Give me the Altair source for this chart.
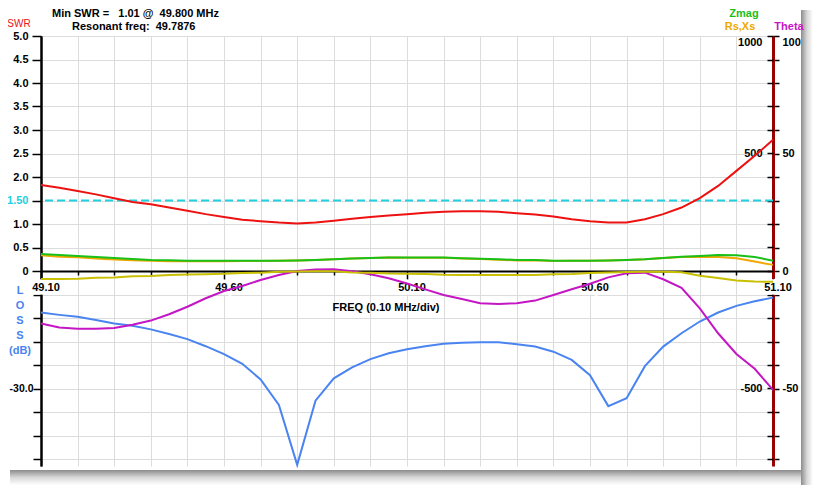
import json
import altair as alt
import pandas as pd

# ---------------- data ----------------
freq = [49.10, 49.15, 49.20, 49.25, 49.30, 49.35, 49.40, 49.45, 49.50, 49.55,
        49.60, 49.65, 49.70, 49.75, 49.80, 49.85, 49.90, 49.95, 50.00, 50.05,
        50.10, 50.15, 50.20, 50.25, 50.30, 50.35, 50.40, 50.45, 50.50, 50.55,
        50.60, 50.65, 50.70, 50.75, 50.80, 50.85, 50.90, 50.95, 51.00, 51.05,
        51.10]
swr = [1.83, 1.77, 1.70, 1.63, 1.55, 1.47, 1.42, 1.35, 1.28, 1.21,
       1.15, 1.09, 1.06, 1.03, 1.01, 1.03, 1.07, 1.11, 1.15, 1.18,
       1.21, 1.24, 1.26, 1.27, 1.27, 1.26, 1.23, 1.20, 1.16, 1.10,
       1.06, 1.03, 1.03, 1.10, 1.21, 1.35, 1.55, 1.81, 2.13, 2.45,
       2.79]
loss_db = [-10.6, -11.2, -11.7, -12.5, -13.4, -14.0, -14.9, -16.1, -17.4, -19.2,
           -21.2, -23.7, -27.7, -34.2, -49.5, -33.1, -27.4, -24.6, -22.5, -21.0,
           -20.0, -19.2, -18.6, -18.3, -18.2, -18.2, -18.7, -19.3, -20.6, -22.7,
           -26.6, -34.5, -32.5, -24.3, -19.3, -15.9, -12.9, -10.6, -8.9, -7.7,
           -6.8]
zmag = [72, 68, 64, 60, 55, 51, 47, 46, 44, 44,
        44, 44, 44, 44, 45, 47, 50, 53, 55, 57,
        57, 57, 57, 54, 52, 50, 47, 47, 44, 44,
        44, 45, 47, 50, 55, 61, 64, 68, 67, 60,
        44]
rs = [67, 61, 58, 53, 49, 46, 44, 42, 41, 42,
      42, 43, 43, 44, 45, 47, 50, 53, 55, 57,
      56, 56, 56, 53, 51, 48, 45, 46, 43, 44,
      44, 45, 47, 50, 55, 60, 61, 60, 54, 40,
      26]
xs = [-34, -34, -33, -29, -28, -22, -21, -17, -15, -14,
      -12, -8, -7, -3, -2, -1, -1, -6, -7, -11,
      -12, -13, -16, -17, -17, -17, -17, -17, -14, -13,
      -8, -6, -4, -3, -3, -5, -20, -30, -40, -45,
      -46]
theta = [-22.3, -24.0, -24.6, -24.6, -24.3, -22.9, -21.1, -18.4, -15.2, -11.6,
         -8.5, -6.4, -3.8, -1.7, 0.0, 0.6, 0.7, -0.1, -1.4, -3.1,
         -5.3, -7.8, -10.2, -11.9, -13.7, -14.0, -13.7, -12.6, -10.2, -7.8,
         -5.4, -2.7, -1.0, -0.7, -3.5, -7.2, -15.9, -26.5, -35.3, -41.6,
         -50.6]

# tick positions / labels
x_ticks = [49.1, 49.2, 49.3, 49.4, 49.5, 49.6, 49.7, 49.8, 49.9, 50.0, 50.1,
           50.2, 50.3, 50.4, 50.5, 50.6, 50.7, 50.8, 50.9, 51.0, 51.1]
x_label_vals = [49.1, 49.6, 50.1, 50.6, 51.1]
x_labels = ["49.10", "49.60", "50.10", "50.60", "51.10"]
swr_ticks = [0, 0.5, 1.0, 1.5, 2.0, 2.5, 3.0, 3.5, 4.0, 4.5, 5.0]
loss_ticks = [-6, -12, -18, -24, -30, -36, -42, -48]
z_ticks = [-800, -700, -600, -500, -400, -300, -200, -100, 0, 100, 200,
           300, 400, 500, 600, 700, 800, 900, 1000]
z_labels = [1000, 500, -500]
theta_ticks = [-80, -70, -60, -50, -40, -30, -20, -10, 0, 10, 20, 30, 40,
               50, 60, 70, 80, 90, 100]
theta_labels = [100, 50, 0, -50]
swr_ref = [1.5]

df = pd.DataFrame(dict(freq=freq, swr=swr, loss=loss_db, zmag=zmag, rs=rs,
                       xs=xs, theta=theta))
xlab_df = pd.DataFrame(dict(freq=x_label_vals, label=x_labels))

# ---------------- layout / style ----------------
W, H = 732, 430
Y0 = 235                      # pixel row (from plot top) of the common zero line
FONT = "Liberation Sans"
GRID = "#dcdcdc"
RED = "#ee1111"
CYAN = "#22d0e0"
BLUE = "#4a84f0"
MAGENTA = "#c416c4"
YELLOW = "#c8c000"
ORANGE = "#f0a800"
GREEN = "#18c018"
DARKRED = "#990000"


def dom(top, px_per_unit):
    return [top - H / px_per_unit, top]


SWR_DOM = dom(5, Y0 / 5)
LOSS_DOM = dom(60, Y0 / 60)
Z_DOM = dom(1000, Y0 / 1000)
TH_DOM = dom(100, Y0 / 100)
X_DOM = [49.1, 51.1]


def sc(d):
    return alt.Scale(domain=d, nice=False, zero=False)


lab = dict(labelFont=FONT, labelFontSize=11, labelFontWeight="bold",
           labelColor="black", title=None, labelOverlap=False)

label_test = "indexof(%s, format(datum.value, '.2f')) >= 0" % json.dumps(x_labels)
x_axis = alt.Axis(orient="bottom", offset=-(H - Y0), values=x_ticks,
                  grid=True, gridColor=GRID, gridWidth=1,
                  domain=True, domainColor="black", domainWidth=2,
                  ticks=True, tickColor="black", tickWidth=1.5,
                  tickSize={"condition": {"test": label_test, "value": 10}, "value": 4},
                  labels=False, title=None)

swr_axis = alt.Axis(orient="left", values=swr_ticks, grid=True, gridColor=GRID,
                    domain=True, domainColor="black", domainWidth=2,
                    tickColor="black", tickWidth=1.5, tickSize=9,
                    labelExpr="datum.value == 0 ? '0' : datum.value == 1.5 ? '1.50' : format(datum.value, '.1f')",
                    labelPadding=4,
                    **{**lab, "labelColor": {"condition": {"test": "datum.value == 1.5", "value": CYAN},
                                             "value": "black"}})

loss_axis = alt.Axis(orient="left", values=loss_ticks, grid=True, gridColor=GRID,
                     domain=True, domainColor="black", domainWidth=2,
                     tickColor="black", tickWidth=1.5, tickSize=8,
                     labelExpr="datum.value == -30 ? '-30.0' : ''",
                     labelPadding=0, **{**lab, "labelFontSize": 10.5})

z_axis = alt.Axis(orient="left", offset=-W, values=z_ticks, grid=False,
                  domain=False, tickColor="black", tickWidth=1.5, tickSize=6,
                  labelExpr="indexof(%s, datum.value) >= 0 ? '' + datum.value : ''" % json.dumps(z_labels),
                  labelPadding=5, labelFlush=True, **lab)

theta_axis = alt.Axis(orient="right", values=theta_ticks, grid=False,
                      domain=True, domainColor=DARKRED, domainWidth=3,
                      tickColor="black", tickWidth=1.5, tickSize=6,
                      labelExpr="indexof(%s, datum.value) >= 0 ? '' + datum.value : ''" % json.dumps(theta_labels),
                      labelPadding=3, labelFlush=True, **lab)


def X():
    return alt.X("freq:Q", scale=sc(X_DOM), axis=x_axis)


base = alt.Chart(df)

cyan = alt.Chart(pd.DataFrame({"v": swr_ref})).mark_rule(
    color=CYAN, strokeWidth=2, strokeDash=[8, 4]).encode(
    y=alt.Y("v:Q", scale=sc(SWR_DOM), axis=None))

blue = base.mark_line(color=BLUE, strokeWidth=2).encode(
    x=X(), y=alt.Y("loss:Q", scale=sc(LOSS_DOM), axis=loss_axis))
magenta = base.mark_line(color=MAGENTA, strokeWidth=2).encode(
    x=X(), y=alt.Y("theta:Q", scale=sc(TH_DOM), axis=theta_axis))
yellow = base.mark_line(color=YELLOW, strokeWidth=2).encode(
    x=X(), y=alt.Y("xs:Q", scale=sc(Z_DOM), axis=None))
orange = base.mark_line(color=ORANGE, strokeWidth=2).encode(
    x=X(), y=alt.Y("rs:Q", scale=sc(Z_DOM), axis=None))
green = base.mark_line(color=GREEN, strokeWidth=2).encode(
    x=X(), y=alt.Y("zmag:Q", scale=sc(Z_DOM), axis=z_axis))
red = base.mark_line(color=RED, strokeWidth=2).encode(
    x=X(), y=alt.Y("swr:Q", scale=sc(SWR_DOM), axis=swr_axis))

# frequency labels on the zero line, with a white box behind them
xl_common = dict(font=FONT, fontSize=11, fontWeight="bold", align="center",
                 baseline="middle", dx=5, text=alt.ExprRef("datum.label"))
xlab_halo = alt.Chart(xlab_df).mark_text(
    fill="white", stroke="white", strokeWidth=7, **xl_common).encode(
    x=X(), y=alt.value(Y0 + 17))
xlab_text = alt.Chart(xlab_df).mark_text(fill="black", **xl_common).encode(
    x=X(), y=alt.value(Y0 + 17))

one = pd.DataFrame({"a": [0]})


def txt(s, x, y, color="black", align="left", weight="bold", size=11):
    return alt.Chart(one).mark_text(text=s, font=FONT, fontSize=size, fontWeight=weight,
                                    color=color, align=align, baseline="middle").encode(
        x=alt.value(x), y=alt.value(y))


# window drop shadow (decoration framing the picture, right and bottom edges)
def shadow(x, x2, y, y2, horizontal):
    grad = alt.LinearGradient(
        gradient="linear",
        stops=[alt.GradientStop(color="#8c8c8c", offset=0),
               alt.GradientStop(color="#d8d8d8", offset=0.5),
               alt.GradientStop(color="#ffffff", offset=1)],
        x1=0, x2=1 if horizontal else 0, y1=0, y2=0 if horizontal else 1)
    return alt.Chart(one).mark_rect(fill=grad).encode(
        x=alt.value(x), x2=alt.value(x2), y=alt.value(y), y2=alt.value(y2))


NB = "\u00a0"
texts = [
    txt(f"Min SWR ={NB}{NB}{NB}1.01 @{NB}{NB}49.800 MHz", 11, -22),
    txt(f"Resonant freq:{NB}{NB}49.7876", 31, -9),
    txt("SWR", -22, -12, color=RED, align="center", weight="normal", size=10),
    txt("L", -21, 255, color=BLUE, align="center"),
    txt("O", -21, 270, color=BLUE, align="center"),
    txt("S", -21, 285, color=BLUE, align="center"),
    txt("S", -21, 300, color=BLUE, align="center"),
    txt("(dB)", -21, 315, color=BLUE, align="center"),
    txt("FREQ (0.10 MHz/div)", 345, 272, align="center"),
    txt("Zmag", 703, -22, color=GREEN, align="center"),
    txt("Rs,Xs", 699, -9, color=ORANGE, align="center"),
    txt("Theta", 748, -9, color=MAGENTA, align="center"),
]

shadows = [shadow(760, 772, -26, 449, True), shadow(-31, 760, 434, 449, False)]

chart = alt.layer(*shadows, xlab_halo, xlab_text, cyan, blue, magenta, yellow,
                  orange, green, red, *texts).resolve_scale(
    y="independent"
).properties(
    width=W, height=H,
    autosize=alt.AutoSizeParams(type="none"),
    padding={"left": 33, "top": 28, "right": 40, "bottom": 19},
    background="white",
).configure_view(stroke="transparent")

chart.save("out.html", embed_options={"renderer": "svg", "actions": False})
